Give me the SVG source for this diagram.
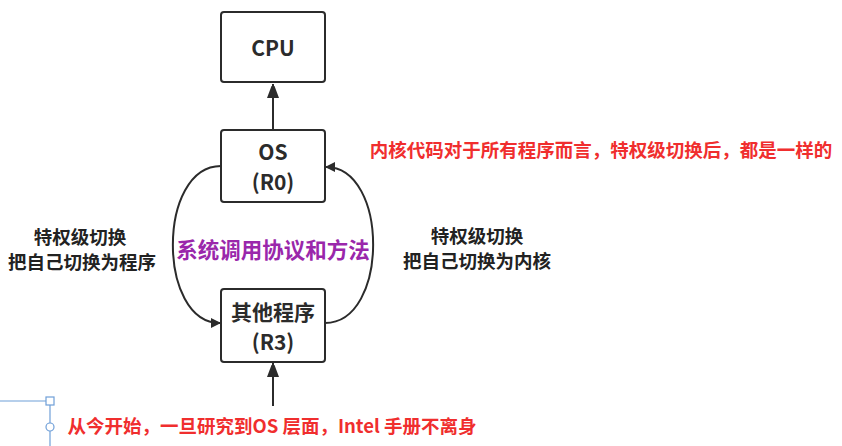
<svg xmlns="http://www.w3.org/2000/svg" width="842" height="446" viewBox="0 0 842 446">
<style>
.box{fill:#fff;stroke:#2b2b2b;stroke-width:2}
.conn{fill:none;stroke:#2b2b2b;stroke-width:2}
.t{font-family:"Noto Sans CJK SC","Noto Sans",sans-serif;font-weight:bold;text-anchor:middle}
.node{font-size:21px;fill:#2b2b2b}
.lbl{font-size:18.5px;fill:#222}
.red{font-size:18.5px;fill:#f02e2e}
.pur{font-size:21.5px;fill:#9a27ab}
.sel{fill:none;stroke:#6f9fd8;stroke-width:1.2}
</style>
<defs>
<marker id="ah" markerWidth="10" markerHeight="10" refX="9" refY="5" orient="auto" markerUnits="userSpaceOnUse">
<path d="M0,0 L10,5 L0,10 Z" fill="#2b2b2b"/>
</marker>
<marker id="ahv" markerWidth="12" markerHeight="16" refX="14" refY="6" orient="auto" markerUnits="userSpaceOnUse">
<path d="M0,0 L16,6 L0,12 Z" fill="#2b2b2b"/>
</marker>
</defs>
<g id="connectors">
<line class="conn" x1="273" y1="130" x2="273" y2="84" marker-end="url(#ahv)"/>
<line class="conn" x1="273" y1="406" x2="273" y2="363" marker-end="url(#ahv)"/>
<path class="conn" d="M221,166 C157,166 157,323 220,323" marker-end="url(#ah)"/>
<path class="conn" d="M325,323 C389,323 389,167 326,167" marker-end="url(#ah)"/>
</g>
<g id="cpu">
<rect class="box" x="221" y="12" width="104" height="70" rx="3"/>
<text class="t node" x="273" y="56" font-size="24">CPU</text>
</g>
<g id="os">
<rect class="box" x="221" y="130" width="104" height="72" rx="3"/>
<text class="t node" x="273" y="160">OS</text>
<text class="t node" x="273" y="190">(R0)</text>
</g>
<g id="r3">
<rect class="box" x="221" y="289" width="104" height="73" rx="3"/>
<text class="t node" x="273" y="320" font-size="20">其他程序</text>
<text class="t node" x="273" y="350">(R3)</text>
</g>
<g id="labels">
<text class="t pur" x="273" y="258">系统调用协议和方法</text>
<text class="t lbl" x="80" y="244">特权级切换</text>
<text class="t lbl" x="82" y="269">把自己切换为程序</text>
<text class="t lbl" x="477" y="243">特权级切换</text>
<text class="t lbl" x="477" y="268">把自己切换为内核</text>
<text class="t red" x="601" y="157">内核代码对于所有程序而言，特权级切换后，都是一样的</text>
<text class="t red" x="272" y="433">从今开始，一旦研究到OS 层面，Intel 手册不离身</text>
</g>
<g id="selection">
<line class="sel" x1="0" y1="401" x2="46" y2="401"/>
<rect class="sel" x="46" y="397" width="8" height="8" fill="#fff"/>
<line class="sel" x1="50" y1="405" x2="50" y2="423"/>
<circle class="sel" cx="50" cy="427" r="4" fill="#fff"/>
<line class="sel" x1="50" y1="431" x2="50" y2="446"/>
</g>
</svg>
